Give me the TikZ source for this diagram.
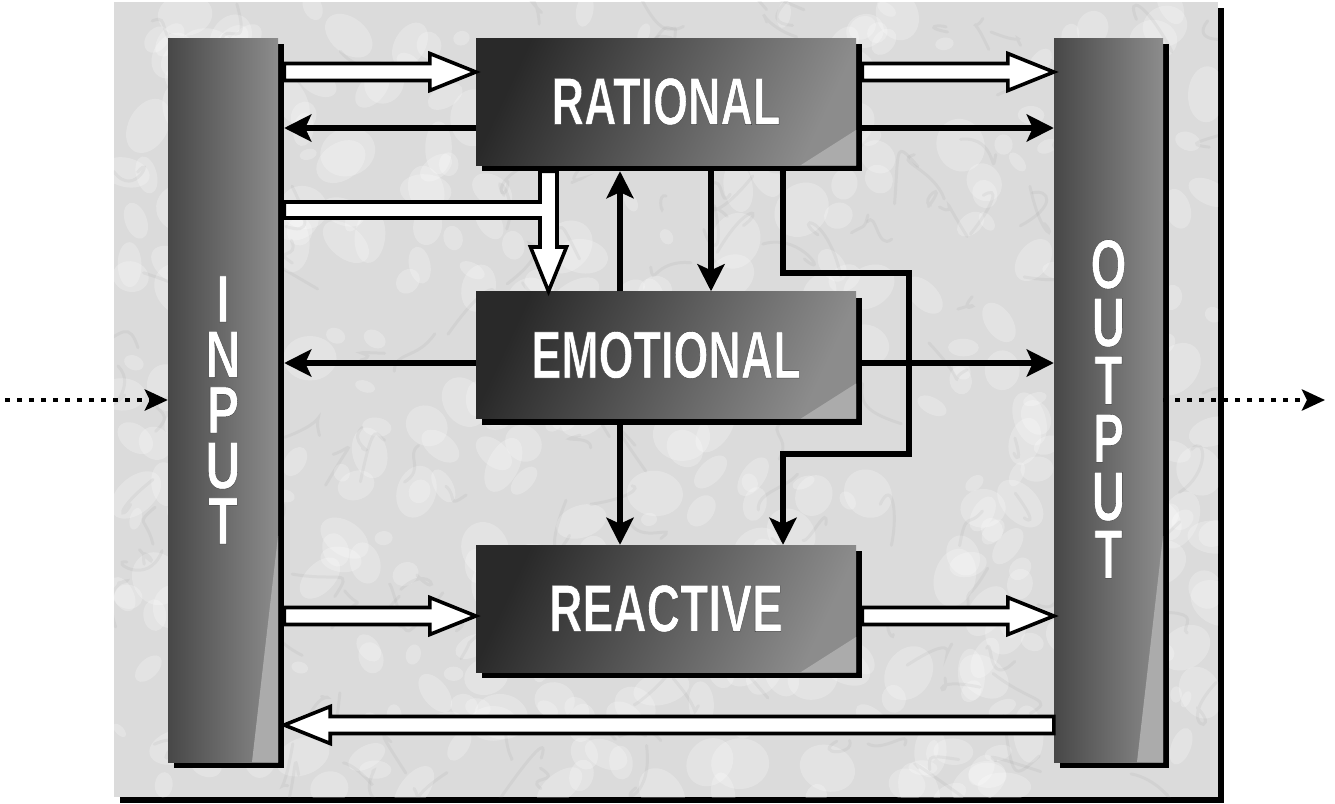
\documentclass[tikz,border=0pt]{standalone}
\usepackage{fontspec}
\newfontfamily\lsans{Liberation Sans}
\usetikzlibrary{calc,arrows.meta,shadows}

\tikzset{
  panel/.style={rectangle, inner sep=0pt, fill=black!14,
    drop shadow={shadow xshift=6pt,shadow yshift=-6pt,opacity=1,fill=black}},
  blk/.style={rectangle, inner sep=0pt, minimum width=380pt, minimum height=127pt,
    shading=axis, top color=black!84, bottom color=black!45, shading angle=65,
    drop shadow={shadow xshift=6pt,shadow yshift=-6pt,opacity=1,fill=black},
    path picture={\fill[black!33] ([yshift=35pt]path picture bounding box.south east)
      -- (path picture bounding box.south east)
      -- ([xshift=-55pt]path picture bounding box.south east) -- cycle;}},
  bar/.style={rectangle, inner sep=0pt, minimum height=724pt,
    shading=axis, left color=black!72, right color=black!45, shading angle=90,
    drop shadow={shadow xshift=6pt,shadow yshift=-6pt,opacity=1,fill=black},
    path picture={\fill[black!33] ([yshift=226pt]path picture bounding box.south east)
      -- (path picture bounding box.south east)
      -- ([xshift=-26pt]path picture bounding box.south east) -- cycle;}},
  conn/.style={line width=5.5pt, -{Stealth[length=27pt,width=27pt,inset=6pt]}},
  hollow/.style={draw=black, line width=3.6pt, fill=white, line join=miter},
  dots/.style={line width=4.5pt, dash pattern=on 4.5pt off 7.5pt,
    -{Stealth[length=23pt,width=21pt,inset=5pt]}},
  lbl/.style={inner sep=0pt, font=\lsans\bfseries\fontsize{67}{67}\selectfont},
  vlbl/.style={inner sep=0pt, align=center},
}

\newcommand\hollowarrow[2]{%
  \coordinate (ha) at (#1);
  \coordinate (hb) at (#2);
  \coordinate (hh) at ($(hb)!46pt!(ha)$);
  \draw[hollow] ($(ha)!8.5pt!90:(hb)$) -- ($(hh)!8.5pt!90:(hb)$)
    -- ($(hh)!18.5pt!90:(hb)$) -- (hb) -- ($(hh)!18.5pt!-90:(hb)$)
    -- ($(hh)!8.5pt!-90:(hb)$) -- ($(ha)!8.5pt!-90:(hb)$) -- cycle;
}

% white text with a thin dark outline (PDF text render mode 2)
\newcommand\outl[1]{{\color{white}\special{pdf:literal direct 2 Tr 0.4 w 0.2 G}#1\special{pdf:literal direct 0 Tr 1 G}}}
\newcommand\inl[1]{\outl{\scalebox{0.72}[1]{#1}}}
\newcommand\outlt[1]{\outl{\scalebox{0.66}[1]{#1}}}

\begin{document}
\begin{tikzpicture}[x=1pt,y=-1pt]
\useasboundingbox (0,0) rectangle (1335,803);

% background panel (marble)
\node[panel, minimum width=1104pt, minimum height=795pt] (bg) at (666,399.5) {};
\begin{scope}
  \clip (bg.south west) rectangle (bg.north east);
  \pgfmathsetseed{12}
  \foreach \i in {1,...,420}{
    \pgfmathsetmacro\xa{114+1104*rnd}
    \pgfmathsetmacro\ya{2+795*rnd}
    \pgfmathsetmacro\ra{8+22*rnd}
    \pgfmathsetmacro\rb{\ra*(0.5+0.4*rnd)}
    \pgfmathsetmacro\an{360*rnd}
    \fill[white,opacity=.24,rotate around={\an:(\xa,\ya)}] (\xa,\ya) ellipse ({\ra} and {\rb});
  }
  \foreach \i in {1,...,200}{
    \pgfmathsetmacro\xa{114+1104*rnd}
    \pgfmathsetmacro\ya{2+795*rnd}
    \pgfmathsetmacro\ca{30*rand}
    \pgfmathsetmacro\cb{30*rand}
    \pgfmathsetmacro\cc{30*rand}
    \pgfmathsetmacro\cd{30*rand}
    \pgfmathsetmacro\ce{45*rand}
    \pgfmathsetmacro\cf{45*rand}
    \draw[black!50,opacity=.09,line width=3pt,line cap=round] (\xa,\ya) .. controls (\xa+\ca,\ya+\cb) and (\xa+\cc,\ya+\cd) .. (\xa+\ce,\ya+\cf);
  }
\end{scope}

% main blocks
\node[bar, minimum width=110pt] (in) at (223,400) {};
\node[bar, minimum width=109pt] (out) at (1108.5,400) {};
\node[blk] (rat) at (666,101.5) {};
\node[blk] (emo) at (666,355) {};
\node[blk] (rea) at (666,608.5) {};

\coordinate (inE) at ([xshift=6pt]in.east);
\coordinate (ratE) at ([xshift=6pt]rat.east);
\coordinate (ratS) at ([yshift=-6pt]rat.south);
\coordinate (emoE) at ([xshift=6pt]emo.east);
\coordinate (emoS) at ([yshift=-6pt]emo.south);
\coordinate (reaE) at ([xshift=6pt]rea.east);
\coordinate (srcL) at (5,400);
\coordinate (dstR) at (1325,400);

% hollow arrows
\hollowarrow{inE |- 0,72}{rat.west |- 0,72}
\hollowarrow{ratE |- 0,72}{out.west |- 0,72}
\hollowarrow{inE |- 0,616}{rea.west |- 0,616}
\hollowarrow{reaE |- 0,616}{out.west |- 0,616}
\hollowarrow{out.west |- 0,725}{inE |- 0,725}
\draw[hollow] (inE |- 0,202) -- (540,202) -- (ratS -| 540,0) -- (ratS -| 557,0)
  -- (557,247) -- (566.5,247) -- (emo.north -| 548.5,0) -- (530.5,247)
  -- (540,247) -- (540,218) -- (inE |- 0,218) -- cycle;

% black arrows
\draw[conn] (rat.west |- 0,128) -- (inE |- 0,128);
\draw[conn] (ratE |- 0,128) -- (out.west |- 0,128);
\draw[conn] (emo.west |- 0,363) -- (inE |- 0,363);
\draw[conn] (emoE |- 0,363) -- (out.west |- 0,363);
\draw[conn] (emo.north -| 620,0) -- (ratS -| 620,0);
\draw[conn] (ratS -| 711,0) -- (emo.north -| 711,0);
\draw[conn] (emoS -| 620,0) -- (rea.north -| 620,0);
\draw[conn] (ratS -| 783,0) -- (783,273) -- (909,273) -- (909,454) -- (783,454)
  -- (rea.north -| 783,0);

% dotted in/out
\draw[dots] (srcL) -- (in.west);
\draw[dots] (out.east) -- (dstR);

% labels
\node[lbl] (tRat) at (rat.center) {\outl{\scalebox{0.67}[1]{RATIONAL}}};
\node[lbl] (tEmo) at (emo.center) {\outl{\scalebox{0.67}[1]{EMOTIONAL}}};
\node[lbl] (tRea) at (rea.center) {\outl{\scalebox{0.69}[1]{REACTIVE}}};
\node[vlbl, font=\lsans\bfseries\fontsize{67}{55.5}\selectfont] (tIn) at (223,410)
  {\inl{I}\\\inl{N}\\\inl{P}\\\inl{U}\\\inl{T}};
\node[vlbl, font=\lsans\bfseries\fontsize{70}{58}\selectfont] (tOut) at (1108.5,409)
  {\outlt{O}\\\outlt{U}\\\outlt{T}\\\outlt{P}\\\outlt{U}\\\outlt{T}};
\end{tikzpicture}
\end{document}
